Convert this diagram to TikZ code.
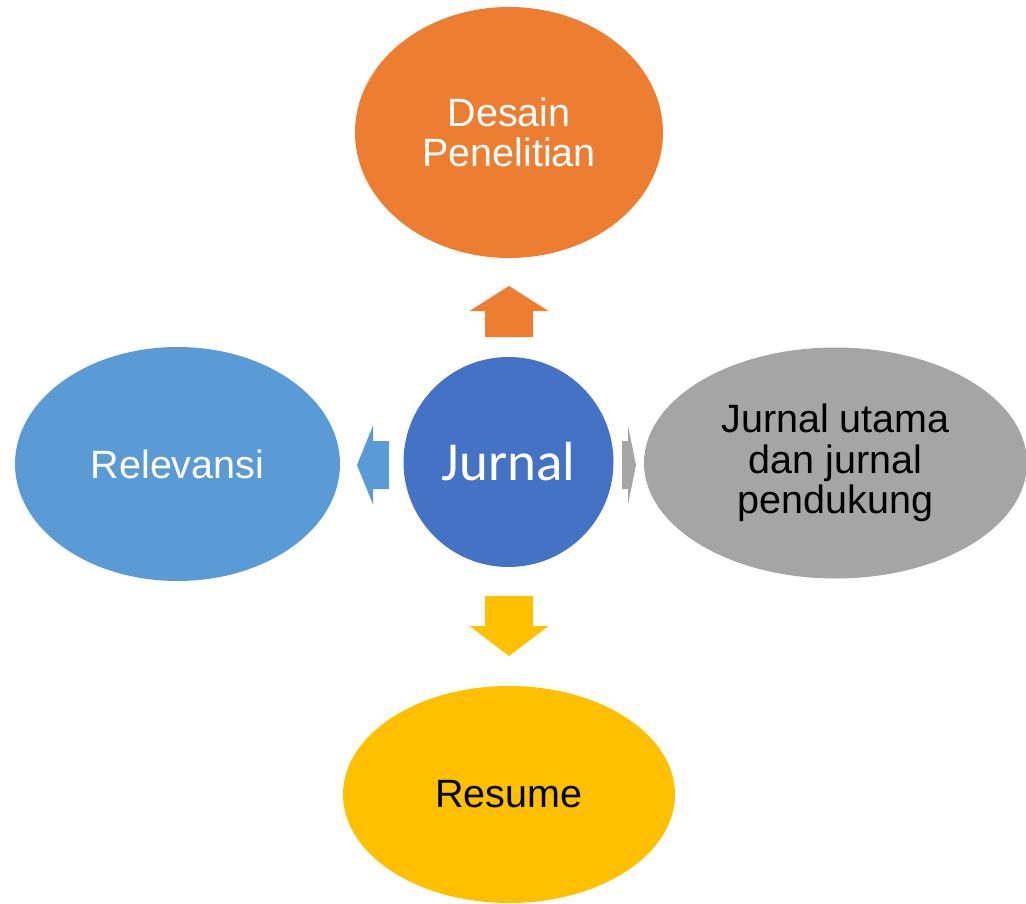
\documentclass[tikz,border=0pt]{standalone}
\usepackage{fontspec}
\setmainfont{Liberation Sans}
\newfontfamily\jurnalfont{Carlito}
\usetikzlibrary{shapes.geometric}

\definecolor{oranye}{HTML}{ED7D31}
\definecolor{biru}{HTML}{5B9BD5}
\definecolor{birutua}{HTML}{4472C4}
\definecolor{abu}{HTML}{A5A5A5}
\definecolor{kuning}{HTML}{FFC000}

\begin{document}
\begin{tikzpicture}[
        x=1pt, y=-1pt,
        bubble/.style={ellipse, inner sep=0pt, align=center,
          font=\fontsize{39.5}{40.5}\selectfont},
        core/.style={circle, inner sep=0pt, minimum size=210pt,
          fill=birutua, text=white, font=\jurnalfont\fontsize{55}{60}\selectfont}
      ]

      \useasboundingbox (0,0) rectangle (1026,904);

      \def\Shaft{24}     % half width of shaft
      \def\Head{39.5}    % half width of head

      % Centre
      \node[core] (jurnal) at (508.5,462) {Jurnal};

      % Surrounding ellipses
      \node[bubble, fill=oranye, text=white, minimum width=308pt,
        minimum height=251pt] (desain) at (509,132.5) {Desain\\Penelitian};
      \node[bubble, fill=biru, text=white, minimum width=325pt,
        minimum height=234pt] (relevansi) at (177.5,464) {Relevansi};
      \node[bubble, fill=abu, text=black, minimum width=383pt,
        minimum height=231pt] (utama) at (835.5,463)
        {Jurnal utama\\dan jurnal\\pendukung};
      \node[bubble, fill=kuning, text=black, minimum width=332pt,
        minimum height=217pt] (resume) at (509,794.5) {Resume};

      % Block arrows: colour / base x / base y / angle / length / head
      \foreach \warna/\bx/\by/\sudut/\panjang/\kepala in {
          oranye/509/337/90/51/25,
          kuning/509/596/270/60/30,
          biru/389/465/180/32/16,
          abu/622/465/0/14/8} {
        \begin{scope}[shift={(\bx,\by)}, rotate=\sudut]
          \coordinate (pangkal) at (0,0);
          \coordinate (ujung) at (\panjang,0);
          \fill[\warna] (0,-\Shaft) -- (\panjang-\kepala,-\Shaft)
            -- (\panjang-\kepala,-\Head) -- (ujung)
            -- (\panjang-\kepala,\Head) -- (\panjang-\kepala,\Shaft)
            -- (0,\Shaft) -- cycle;
        \end{scope}
      }
    \end{tikzpicture}
\end{document}
